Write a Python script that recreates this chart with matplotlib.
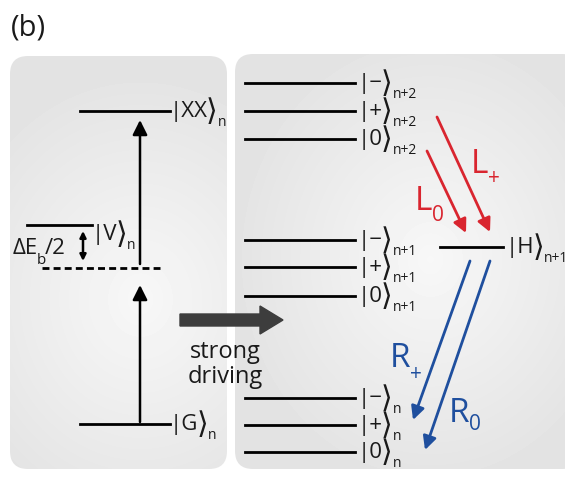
import numpy as np
import matplotlib
matplotlib.use("Agg")
import matplotlib.pyplot as plt
from matplotlib.patches import FancyBboxPatch, FancyArrow

plt.rcParams['font.family'] = ['Open Sans', 'DejaVu Sans']

# level energies (pixel rows of the drawing)
xx_level = 112
g_level = 425
v_level = 226
virtual_level = 269
right_labels = ['\u2212', '+', '0']
right_levels_n2 = [84, 112, 140]
right_levels_n1 = [241, 268, 297]
right_levels_n = [399, 426, 453]
h_level = 248

red = '#d9252f'
blue = '#1f4f9e'
ink = '#1a1a1a'

fig = plt.figure(figsize=(5.65, 4.81), dpi=100)
ax = fig.add_axes([0, 0, 1, 1])
ax.set_xlim(0, 565)
ax.set_ylim(481, 0)
ax.set_aspect('equal')
ax.axis('off')


# panel with soft radial gradient
def panel(x0, y0, w, h, cx, cy):
    box = FancyBboxPatch((x0, y0), w, h, boxstyle='round,pad=0,rounding_size=18',
                         fc='none', ec='none')
    ax.add_patch(box)
    yy, xx = np.mgrid[y0:y0 + h, x0:x0 + w]
    r = np.sqrt(((xx - cx) / 200.0) ** 2 + ((yy - cy) / 230.0) ** 2)
    val = 0.97 - 0.08 * np.clip(r, 0, 1)
    im = ax.imshow(val, cmap='gray', vmin=0, vmax=1, extent=(x0, x0 + w, y0 + h, y0),
                   interpolation='bilinear', zorder=0)
    im.set_clip_path(box)


# text with a lowered subscript; y is the baseline of the main text
def label(x, y, s, sub, fs=15, sfs=9.5, drop=9, color=ink):
    t = ax.text(x, y, s, fontsize=fs, va='baseline', ha='left', color=color)
    ax.annotate(sub, xy=(1, y + drop), xycoords=(t, 'data'), xytext=(-0.5, 0),
                textcoords='offset points', fontsize=sfs, va='baseline', ha='left',
                color=color, annotation_clip=False)
    return t


# |inner> with a tall thin closing bracket and subscript
def ket(x, level, inner, sub, fs=16):
    base = level + 5
    t = ax.text(x, base, '|' + inner, fontsize=fs, va='baseline', ha='left', color=ink)
    br = ax.annotate('\u27e9', xy=(1, base + 3), xycoords=(t, 'data'), xytext=(-1.5, 0),
                     textcoords='offset points', fontsize=fs * 1.35, va='baseline',
                     family='DejaVu Sans', color=ink, annotation_clip=False)
    ax.annotate(sub, xy=(1, base + 9), xycoords=(br, 'data'), xytext=(0, 0),
                textcoords='offset points', fontsize=10, va='baseline', ha='left',
                color=ink, annotation_clip=False)


panel(10, 57, 217, 413, 140, 300)
panel(235, 55, 345, 415, 430, 260)

# panel label
ax.text(11, 28, '(b)', fontsize=21, va='center', ha='left', color=ink)

lw = 2.0

# left panel levels
ax.plot([80, 170], [xx_level] * 2, color='k', lw=lw)
ket(170, xx_level, 'XX', 'n')
ax.plot([80, 170], [g_level] * 2, color='k', lw=lw)
ket(170, g_level, 'G', 'n')
ax.plot([27, 92], [v_level] * 2, color='k', lw=lw)
ket(92, v_level + 9, 'V', 'n')
ax.plot([42, 160], [virtual_level] * 2, color='k', lw=lw, ls=(0, (2.5, 1.5)))

t = ax.text(13, 254, '\u0394E', fontsize=16, va='baseline', color=ink)
tb = ax.annotate('b', xy=(1, 264), xycoords=(t, 'data'), xytext=(-1, 0),
                 textcoords='offset points', fontsize=11, va='baseline', color=ink)
ax.annotate('/2', xy=(1, 254), xycoords=(tb, 'data'), xytext=(-1, 0),
            textcoords='offset points', fontsize=16, va='baseline', color=ink)
ax.annotate('', xy=(83, 232), xytext=(83, 262),
            arrowprops=dict(arrowstyle='<|-|>', color='k', lw=1.8, mutation_scale=9,
                            shrinkA=0, shrinkB=0))

# excitation arrows
ax.annotate('', xy=(140, 121), xytext=(140, 265),
            arrowprops=dict(arrowstyle='-|>', color='k', lw=1.8, mutation_scale=22,
                            shrinkA=0, shrinkB=0))
ax.annotate('', xy=(140, 286), xytext=(140, 423),
            arrowprops=dict(arrowstyle='-|>', color='k', lw=1.8, mutation_scale=22,
                            shrinkA=0, shrinkB=0))

# strong driving arrow
ax.add_patch(FancyArrow(180, 321, 80, 0, width=12, head_width=28, head_length=23,
                        length_includes_head=False, color='#3d3d3d', zorder=3))
ax.text(225, 352, 'strong', fontsize=17, ha='center', va='center', color=ink)
ax.text(225, 377, 'driving', fontsize=17, ha='center', va='center', color=ink)

# right panel ladders
for levels, sub in [(right_levels_n2, 'n+2'), (right_levels_n1, 'n+1'), (right_levels_n, 'n')]:
    for y, lab in zip(levels, right_labels):
        ax.plot([245, 355], [y, y], color='k', lw=lw)
        ket(358, y, lab, sub)

ax.plot([440, 503], [h_level] * 2, color='k', lw=lw)
ket(506, h_level, 'H', 'n+1')

# emission arrows
arrow_kw = dict(lw=2.0, mutation_scale=20, shrinkA=0, shrinkB=0)
ax.annotate('', xy=(490, 233), xytext=(437, 118),
            arrowprops=dict(arrowstyle='-|>', color=red, **arrow_kw))
ax.annotate('', xy=(466, 234), xytext=(427, 152),
            arrowprops=dict(arrowstyle='-|>', color=red, **arrow_kw))
label(471, 173, 'L', '+', fs=24, sfs=15, drop=11, color=red)
label(415, 210, 'L', '0', fs=24, sfs=15, drop=11, color=red)

ax.annotate('', xy=(413, 421), xytext=(470, 262),
            arrowprops=dict(arrowstyle='-|>', color=blue, **arrow_kw))
ax.annotate('', xy=(425, 451), xytext=(490, 262),
            arrowprops=dict(arrowstyle='-|>', color=blue, **arrow_kw))
label(390, 367, 'R', '+', fs=24, sfs=15, drop=13, color=blue)
label(449, 422, 'R', '0', fs=24, sfs=15, drop=8, color=blue)

fig.savefig('out.png', dpi=100)
